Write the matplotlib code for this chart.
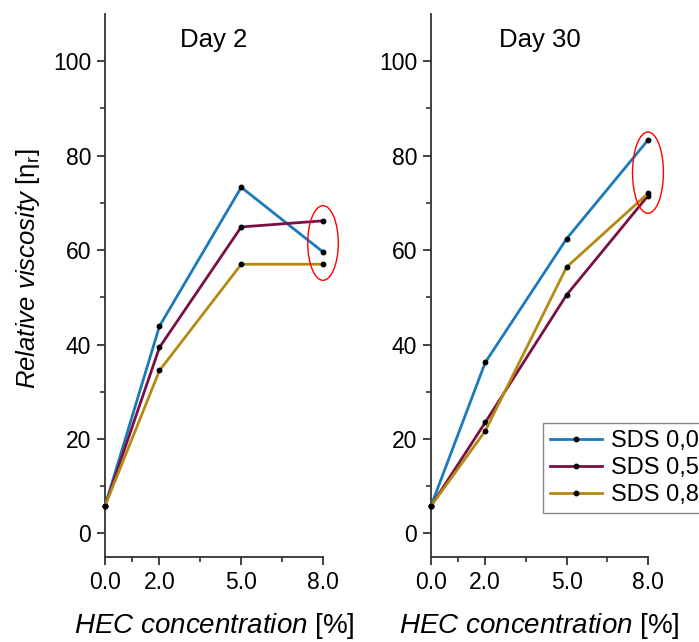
import numpy as np
import matplotlib
matplotlib.use('Agg')
import matplotlib.pyplot as plt
from matplotlib.patches import Ellipse

plt.rcParams['font.family'] = ['Liberation Sans', 'DejaVu Sans']
plt.rcParams['mathtext.fontset'] = 'custom'
plt.rcParams['mathtext.rm'] = 'Liberation Sans'
plt.rcParams['mathtext.it'] = 'Liberation Sans:italic'

# HEC concentration [%]
hec = [0.0, 2.0, 5.0, 8.0]
xticks_lbl = ['0.0', '2.0', '5.0', '8.0']

series = ['SDS 0,0', 'SDS 0,5', 'SDS 0,8']
colores = ['#1a7abb', '#7a0f45', '#b58a12']

day2_sds00 = [5.8, 43.9, 73.3, 59.6]
day2_sds05 = [5.8, 39.4, 64.9, 66.2]
day2_sds08 = [5.8, 34.5, 57.0, 57.0]

day30_sds00 = [5.8, 36.2, 62.4, 83.3]
day30_sds05 = [5.8, 23.5, 50.5, 71.5]
day30_sds08 = [5.8, 21.7, 56.4, 72.0]

paneles = [('Day 2', [day2_sds00, day2_sds05, day2_sds08], (8.0, 61.5, 1.12, 15.8)),
           ('Day 30', [day30_sds00, day30_sds05, day30_sds08], (8.0, 76.4, 1.14, 17.2))]

fig = plt.figure(figsize=(6.99, 6.42), dpi=100)
ejes = [fig.add_axes([0.1502, 0.1324, 0.3119, 0.8458]),
        fig.add_axes([0.6166, 0.1324, 0.3104, 0.8458])]

for ax, (titulo, datos, elipse) in zip(ejes, paneles):
    for y, nombre, c in zip(datos, series, colores):
        ax.plot(hec, y, '-', color=c, lw=2, marker='o', markersize=3.2,
                markerfacecolor='k', markeredgecolor='k', label=nombre, clip_on=False, zorder=3)
    ax.set_xlim(0, 8)
    ax.set_ylim(-5, 110)
    ax.set_xticks(hec)
    ax.set_xticklabels(xticks_lbl)
    ax.set_xticks([1, 3.5, 6.5], minor=True)
    ax.set_yticks([0, 20, 40, 60, 80, 100])
    ax.set_yticks([10, 30, 50, 70, 90], minor=True)
    for s in ['top', 'right']:
        ax.spines[s].set_visible(False)
    for s in ['left', 'bottom']:
        ax.spines[s].set_linewidth(1.3)
        ax.spines[s].set_color('#333333')
    ax.tick_params(which='major', length=6, width=1.3, labelsize=16.5, color='#333333', pad=4)
    ax.tick_params(which='minor', length=3.5, width=1.2, color='#333333')
    ax.text(0.5, 0.975, titulo, transform=ax.transAxes, ha='center', va='top', fontsize=18.5)
    ax.set_xlabel(r'$\mathit{HEC\ concentration}$ [%]', fontsize=20, labelpad=12)
    ex, ey, ew, eh = elipse
    ax.add_patch(Ellipse((ex, ey), ew, eh, fill=False, edgecolor='red', lw=1, clip_on=False, zorder=4))

ejes[0].set_ylabel(r'$\mathit{Relative\ viscosity}$ [η$_\mathrm{r}$]', fontsize=18.5)
ejes[0].yaxis.set_label_coords(-0.29, 0.53)

lgd = ejes[1].legend(loc='upper left', bbox_to_anchor=(0.515, 0.247), fontsize=17, frameon=True,
                     fancybox=False, edgecolor='#888888', framealpha=1, borderpad=0.3,
                     handlelength=2.2, handletextpad=0.4, labelspacing=0.22, borderaxespad=0)
lgd.get_frame().set_linewidth(1)

plt.savefig('out.png', dpi=100)
